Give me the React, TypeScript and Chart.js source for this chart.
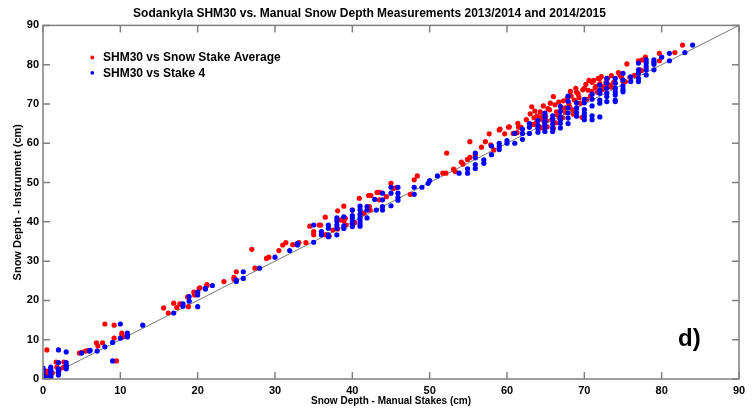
import { useEffect, useRef } from "react";
import { Chart, registerables } from "chart.js";
Chart.register(...registerables);

const TITLE = "Sodankyla SHM30 vs. Manual Snow Depth Measurements 2013/2014 and 2014/2015";
const X_LABEL = "Snow Depth - Manual Stakes (cm)";
const Y_LABEL = "Snow Depth - Instrument (cm)";
const SERIES_NAMES = ["SHM30 vs Snow Stake Average", "SHM30 vs Stake 4"];
const PANEL_TAG = "d)";
const AXIS_MIN = 0;
const AXIS_MAX = 90;
const AXIS_STEP = 10;
const ONE_TO_ONE: [number, number][] = [[0, 0], [90, 90]];

const AVG_LOW: [number, number][] = [
  [0.2,1.0],[0.3,1.6],[0.5,2.0],[0.6,1.2],[0.9,1.8],[0.5,7.4],[1.0,0.7],[1.2,1.5],[1.7,4.3],[1.8,3.0],[2.0,1.8],[2.1,2.4],[2.7,4.3],[2.6,2.9],
  [4.7,6.6],[5.0,6.8],[5.5,7.1],[5.8,7.2],[6.9,9.2],[7.1,8.4],[7.7,9.2],[8.0,14.0],[9.2,13.7],[9.2,10.4],[10.2,11.7],[10.2,11.2],[10.3,10.7],[9.5,4.6],
  [15.6,18.1],[16.2,16.8],[16.9,19.3],[17.3,18.2],[17.7,19.1],[17.9,19.0],[18.7,20.9],[18.8,18.4],[19.5,22.1],[19.6,21.4],[20.2,23.1],[20.3,23.2],[21.2,24.0],[21.2,23.8],
];
const AVG_MID: [number, number][] = [
  [23.4,24.8],[24.7,25.9],[24.7,25.4],[25.0,27.3],[27.0,33.0],[27.4,28.2],[28.9,30.7],[29.2,31.0],[30.5,32.7],[31.0,34.1],[31.4,34.7],[32.3,34.2],[33.1,34.7],[34.0,34.7],
  [34.5,38.9],[35.0,37.5],[35.0,36.7],[35.7,39.2],[35.9,39.2],[36.5,41.2],[36.5,36.7],[36.7,36.7],[37.0,36.4],[37.5,37.9],[38.1,38.2],[38.1,42.8],[38.5,40.5],
  [38.9,44.0],[38.9,41.1],[38.9,40.2],[39.1,40.9],[39.2,39.2],[40.0,43.0],[40.3,39.8],[40.9,46.0],[41.5,42.2],
];
const AVG_HIGH1: [number, number][] = [
  [42.1,46.7],[42.4,46.7],[42.2,43.9],[42.3,43.0],[43.2,47.5],[43.5,47.5],[43.5,45.6],[44.4,46.4],[45.0,49.8],[45.3,48.5],[45.7,48.7],[47.5,47.0],[48.0,50.7],[48.4,51.7],
  [51.7,52.4],[52.1,52.4],[52.2,57.5],[53.1,53.4],[53.3,52.8],[54.1,55.2],[54.3,54.7],[54.9,55.9],[55.2,56.4],[55.2,60.4],[55.9,57.0],[56.7,59.0],[57.2,60.4],
  [57.7,62.4],[57.9,59.6],[58.3,58.3],[59.0,63.4],[59.1,63.6],[59.7,62.4],[60.2,64.1],[60.3,64.2],[60.8,62.5],[61.3,62.7],[61.4,65.1],[61.5,64.1],[61.8,64.1],
];
const AVG_HIGH2: [number, number][] = [
  [62.5,66.0],[63.0,67.5],[63.2,69.3],[63.4,64.8],[63.5,66.5],[63.6,68.2],[63.8,65.2],[63.9,67.0],[64.0,64.5],[64.2,63.8],[64.3,68.0],[64.4,66.2],[64.5,66.8],
  [64.6,64.0],[64.7,69.5],[64.8,65.5],[65.0,67.0],[65.1,65.8],[65.2,64.2],[65.3,68.8],[65.5,68.5],[65.6,70.2],[65.8,66.0],[66.0,71.9],[66.0,63.8],[66.2,69.8],
  [66.3,65.2],[66.4,68.0],[66.5,67.2],[66.7,70.5],[66.8,66.4],[67.0,68.5],[67.2,66.5],[67.3,70.8],[67.5,69.0],[67.6,67.8],[67.8,71.5],[68.0,70.0],[68.1,69.3],
  [68.2,73.2],[68.3,72.0],[68.5,68.5],[68.6,67.4],[68.7,71.0],[68.9,74.0],[69.0,73.0],[69.2,72.5],[69.3,71.6],[69.5,70.2],[69.7,66.6],[69.8,73.6],[70.0,74.0],
  [70.2,75.0],[70.3,71.2],[70.5,73.5],[70.6,76.0],[70.8,72.0],[71.0,75.5],[71.0,73.2],[71.2,76.0],[71.4,74.2],[71.5,74.5],[71.7,73.0],[71.8,76.5],[72.0,75.2],
  [72.0,76.5],[72.2,77.0],[72.2,73.6],[72.5,73.8],[72.5,74.4],[72.8,75.5],[73.0,76.5],[73.1,74.4],[73.3,74.8],[73.5,77.2],[73.5,74.3],[73.8,75.5],[74.4,78.0],
  [74.6,77.4],[74.8,76.8],[75.0,75.7],[75.3,75.7],[75.5,80.2],[75.9,76.8],[76.5,77.3],[77.0,81.0],[77.2,78.7],[77.4,78.5],[77.5,81.2],[77.9,81.9],[79.7,82.9],
  [79.7,81.0],[81.7,83.1],[82.7,85.0],
];

const STAKE_LOW: [number, number][] = [
  [0,0.3],[0,0.8],[0,1.3],[0,1.8],[0,2.3],[0,2.8],[0.3,0.5],[1,0.5],[1,1.0],[1,1.5],[1,2.0],[1,2.5],[1,3.0],[2,1.0],[2,1.5],[2,2.0],[2,2.6],[2,4.2],[2,7.4],
  [3,2.6],[3,3.0],[3,3.5],[3,4.2],[3,6.9],[5,6.6],[6,7.1],[6.1,7.3],[7,7.1],[8,8.2],[9,9.3],[9,4.6],[10,14.0],[10,10.4],[10.9,11.7],[10.9,11.2],[10.9,10.7],
  [12.9,13.7],[16.9,16.8],[18.1,19.1],[18.1,18.5],[18.9,19.8],[18.9,21.0],[20,18.4],[20,22.1],[20,21.4],[21,23.1],[21,22.9],[21.9,23.8],
];
const STAKE_MID: [number, number][] = [
  [25,24.8],[25,25.2],[25.9,25.6],[25.9,27.3],[28,28.2],[30,31.0],[31.9,32.7],[32.9,34.5],[32.9,34.1],[35,34.8],[35,39.2],[36,37.5],[36,36.7],
  [36.9,39.2],[36.9,38.4],[36.9,36.7],[36.9,36.2],[38,41.0],[38,40.2],[38,39.2],[38,38.4],[38,36.7],[38.9,41.3],[38.9,39.0],[38.9,38.3],
  [40,43.0],[40,41.6],[40,41.0],[40,40.2],[40,39.4],[40,38.8],[41,44.0],[41,43.1],[41,41.9],[41,41.0],[41,40.3],[41,39.5],[41,38.9],
];
const STAKE_HIGH1: [number, number][] = [
  [41.9,43.9],[41.9,43.0],[41.9,41.0],[42.9,45.7],[43.1,43.0],[43.9,47.3],[43.9,45.6],[43.9,43.9],[43.9,43.0],[45,48.8],[45,47.3],[45,44.1],
  [45.9,48.8],[45.9,47.3],[45.9,46.2],[45.9,45.5],[48,48.8],[48,47.0],[49,48.8],[49.8,49.8],[50,50.5],[51,51.7],[53.8,52.4],[54.9,53.5],[54.9,52.4],
  [55.9,57.5],[55.9,56.3],[55.9,54.6],[55.9,53.6],[57,55.8],[57,54.9],[58,59.3],[58,57.1],[59,60.0],[59,59.2],[59,58.4],[60,60.7],[60,60.0],
  [61,62.5],[61,60.0],[62,63.6],[62,62.5],[62,61.0],
];
const STAKE_HIGH2: [number, number][] = [
  [62.9,65.0],[62.9,64.1],[62.9,62.5],[64,65.8],[64,64.5],[64,63.8],[64,62.8],[64.9,67.7],[64.9,66.7],[64.9,65.6],[64.9,64.7],[64.9,63.9],[64.9,63.0],
  [65.9,67.0],[65.9,66.0],[65.9,64.9],[65.9,63.9],[65.9,63.0],[66.9,69.4],[66.9,68.1],[66.9,66.8],[66.9,66.0],[66.9,65.1],[66.9,63.9],
  [67.9,72.0],[67.9,70.7],[67.9,69.0],[67.9,67.7],[67.9,66.4],[67.9,65.0],[69,70.3],[69,69.0],[69,67.9],[69,66.9],
  [70,71.2],[70,70.3],[70,68.6],[70,67.7],[70,66.9],[70,66.0],[71,72.5],[71,71.2],[71,69.5],[71,67.0],[71,66.0],
  [72,74.8],[72,73.5],[72,72.7],[72,71.0],[72,70.2],[72,66.7],[72.9,76.5],[72.9,75.3],[72.9,74.0],[72.9,72.7],[72.9,71.9],[72.9,70.6],
  [74,76.5],[74,75.3],[74,74.0],[74,73.1],[74,72.3],[74,71.0],[74,70.6],[75,77.8],[75,76.1],[75,74.6],[75,73.7],[75,73.1],[76,76.9],[76,75.7],
  [77,80.4],[77,78.7],[77,77.8],[77,76.5],[77,75.7],[78,81.2],[78,80.4],[78,79.5],[78,78.7],[78,77.4],[79,81.2],[79,80.6],[79,80.1],[79,78.7],
  [80,81.9],[81,82.9],[81,81.0],[83,83.1],[84,85.0],
];

const RED = "#ff0000";
const BLUE = "#0000ff";
const AXIS_COLOR = "#808080";
const FONT = "'Liberation Sans', Arial, Helvetica, sans-serif";

const toXY = (arrs: [number, number][][]) => arrs.flat().map(([x, y]) => ({ x, y }));

export default function App() {
  const ref = useRef<HTMLCanvasElement | null>(null);
  useEffect(() => {
    document.body.style.margin = "0";
    const canvas = ref.current!;
    const frame = {
      id: "frameTicks",
      afterDatasetsDraw(chart: any) {
        const { ctx, chartArea: a, scales } = chart;
        const xs = scales.x, ys = scales.y;
        ctx.save();
        ctx.strokeStyle = AXIS_COLOR;
        ctx.lineWidth = 1.5;
        ctx.strokeRect(a.left, a.top, a.right - a.left, a.bottom - a.top);
        const tl = 7;
        ctx.beginPath();
        for (let v = AXIS_MIN; v <= AXIS_MAX; v += AXIS_STEP) {
          const px = xs.getPixelForValue(v);
          ctx.moveTo(px, a.bottom); ctx.lineTo(px, a.bottom - tl);
          ctx.moveTo(px, a.top); ctx.lineTo(px, a.top + tl);
          const py = ys.getPixelForValue(v);
          ctx.moveTo(a.left, py); ctx.lineTo(a.left + tl, py);
          ctx.moveTo(a.right, py); ctx.lineTo(a.right - tl, py);
        }
        ctx.stroke();
        const items = [
          { label: SERIES_NAMES[0], color: RED },
          { label: SERIES_NAMES[1], color: BLUE },
        ];
        ctx.font = `bold 12px ${FONT}`;
        ctx.textBaseline = "middle";
        ctx.textAlign = "left";
        items.forEach((it, i) => {
          const y = 57.5 + i * 15.3;
          ctx.fillStyle = it.color;
          ctx.beginPath();
          ctx.arc(92.3, y, 1.9, 0, Math.PI * 2);
          ctx.fill();
          ctx.fillStyle = "#000";
          ctx.fillText(it.label, 103, y + 0.5);
        });
        ctx.font = `bold 24px ${FONT}`;
        ctx.fillText(PANEL_TAG, 678, 339.5);
        ctx.restore();
      },
    };
    const chart = new Chart(canvas, {
      type: "scatter",
      data: {
        datasets: [
          {
            label: SERIES_NAMES[0],
            data: toXY([AVG_LOW, AVG_MID, AVG_HIGH1, AVG_HIGH2]),
            backgroundColor: RED,
            borderWidth: 0,
            pointRadius: 2.6,
            order: 1,
          },
          {
            label: SERIES_NAMES[1],
            data: toXY([STAKE_LOW, STAKE_MID, STAKE_HIGH1, STAKE_HIGH2]),
            backgroundColor: BLUE,
            borderWidth: 0,
            pointRadius: 2.6,
            order: 0,
          },
          {
            type: "line",
            label: "1:1",
            data: ONE_TO_ONE.map(([x, y]) => ({ x, y })),
            borderColor: "#7a7a7a",
            borderWidth: 1,
            pointRadius: 0,
            showLine: true,
            fill: false,
            order: 2,
          } as any,
        ],
      },
      options: {
        responsive: false,
        animation: false,
        layout: { padding: { left: 0, right: 15, top: 0, bottom: 0 } },
        plugins: {
          legend: { display: false },
          tooltip: { enabled: false },
          title: {
            display: true,
            text: TITLE,
            color: "#000",
            font: { family: FONT, size: 12, weight: "bold", lineHeight: 1.2 },
            padding: { top: 6, bottom: 5 },
            align: "center",
          },
        },
        scales: {
          x: {
            type: "linear",
            min: AXIS_MIN,
            max: AXIS_MAX,
            grid: { display: false, drawTicks: false },
            border: { display: false },
            ticks: {
              stepSize: AXIS_STEP,
              color: "#000",
              padding: 5,
              font: { family: FONT, size: 11, weight: "bold" },
            },
            title: {
              display: true,
              text: X_LABEL,
              color: "#000",
              font: { family: FONT, size: 10, weight: "bold", lineHeight: 1.2 },
              padding: { top: 0, bottom: 4 },
            },
            afterFit: (s: any) => { s.height = 32; },
          },
          y: {
            type: "linear",
            min: AXIS_MIN,
            max: AXIS_MAX,
            grid: { display: false, drawTicks: false },
            border: { display: false },
            ticks: {
              stepSize: AXIS_STEP,
              color: "#000",
              padding: 4,
              font: { family: FONT, size: 11, weight: "bold" },
            },
            title: {
              display: true,
              text: Y_LABEL,
              color: "#000",
              font: { family: FONT, size: 11, weight: "bold", lineHeight: 1.2 },
              padding: { top: 11, bottom: 0 },
            },
            afterFit: (s: any) => { s.width = 43; },
          },
        },
      } as any,
      plugins: [frame],
    });
    return () => chart.destroy();
  }, []);
  return (
    <div style={{ position: "fixed", left: 0, top: 0, width: 754, height: 411, background: "#fff" }}>
      <canvas ref={ref} width={754} height={411} style={{ display: "block", width: 754, height: 411 }} />
    </div>
  );
}
